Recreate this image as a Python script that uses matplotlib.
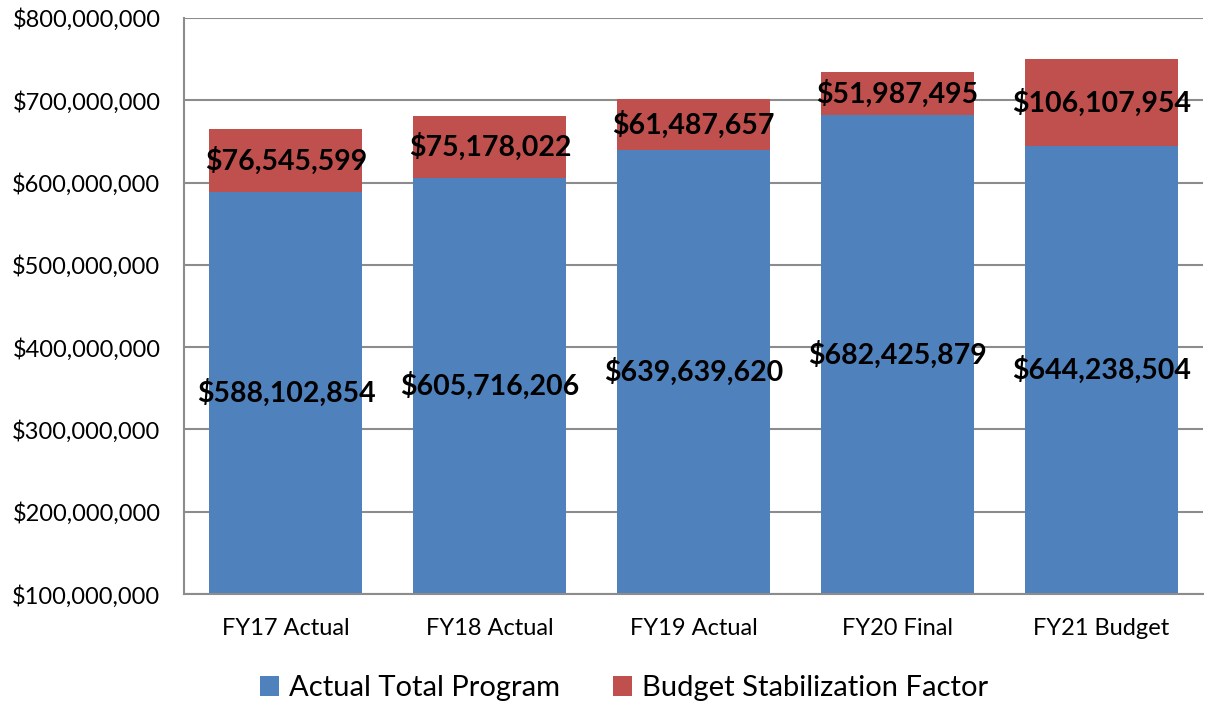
import matplotlib
matplotlib.use("Agg")
import matplotlib.pyplot as plt
from matplotlib.ticker import FuncFormatter

categories = ["FY17 Actual", "FY18 Actual", "FY19 Actual", "FY20 Final", "FY21 Budget"]
actual_total = [588102854, 605716206, 639639620, 682425879, 644238504]
stabilization = [76545599, 75178022, 61487657, 51987495, 106107954]

BLUE = "#4F81BD"
RED = "#C0504D"
YMIN, YMAX = 100_000_000, 800_000_000

plt.rcParams["font.family"] = ["Lato", "DejaVu Sans"]

fig = plt.figure(figsize=(12.05, 7.05), dpi=100)
ax = fig.add_axes([0.1527, 0.1574, 0.846, 0.8171])

x = range(len(categories))
b1 = ax.bar(x, actual_total, width=0.75, color=BLUE, label="Actual Total Program", zorder=2)
b2 = ax.bar(x, stabilization, width=0.75, bottom=actual_total, color=RED,
            label="Budget Stabilization Factor", zorder=2)

# labels centred in the visible part of each segment
for i, (a, s) in enumerate(zip(actual_total, stabilization)):
    ax.text(i, (YMIN + a) / 2, f"${a:,}", ha="center", va="center",
            fontsize=20.5, fontweight="bold", color="black", zorder=3)
    ax.text(i, a + s / 2, f"${s:,}", ha="center", va="center",
            fontsize=20.5, fontweight="bold", color="black", zorder=3)

ax.set_ylim(YMIN, YMAX)
ax.set_xlim(-0.5, len(categories) - 0.5)
ax.set_yticks(range(YMIN, YMAX + 1, 100_000_000))
ax.yaxis.set_major_formatter(FuncFormatter(lambda v, p: f"${int(v):,}"))
ax.set_xticks(list(x))
ax.set_xticklabels(categories)
ax.tick_params(axis="both", length=0, labelsize=17)
ax.tick_params(axis="y", pad=17)
ax.tick_params(axis="x", pad=17)
ax.grid(axis="y", color="#8c8c8c", linewidth=1.5, zorder=1)
for side in ["top", "right"]:
    ax.spines[side].set_visible(False)
for side in ["left", "bottom"]:
    ax.spines[side].set_color("#8c8c8c")
    ax.spines[side].set_linewidth(1.5)

fig.legend(handles=[b1, b2], loc="center", bbox_to_anchor=(0.518, 0.024),
           ncol=2, frameon=False, fontsize=21, handlelength=0.65, handleheight=0.65,
           columnspacing=1.8, handletextpad=0.35)

fig.savefig("out.png", dpi=100)
